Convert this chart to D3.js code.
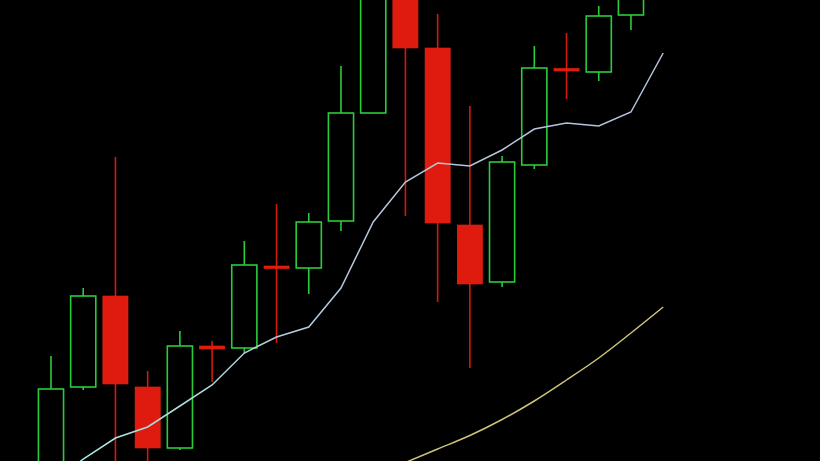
<!DOCTYPE html>
<html>
<head>
<meta charset="utf-8">
<script src="https://cdn.jsdelivr.net/npm/d3@7/dist/d3.min.js"></script>
<style>
  html, body { margin: 0; padding: 0; background: #000; }
  svg { display: block; }
</style>
</head>
<body>
<svg id="chart" width="820" height="461"></svg>
<script>
// ---- data ----
const days  = ["D1","D2","D3","D4","D5","D6","D7","D8","D9","D10",
               "D11","D12","D13","D14","D15","D16","D17","D18","D19","D20"];
const open  = [ 99.1,107.4,116.5,107.4,101.3,111.5,111.3,119.5,119.3,124.0,
               134.8,147.6,141.3,123.6,117.9,129.6,139.25,138.9,144.6,150.1];
const high  = [110.5,117.3,130.4,109.0,113.0,112.0,122.0,125.7,124.8,139.5,
               149.6,148.6,144.7,135.5,130.5,141.5,142.8,145.5,150.1,156.1];
const low   = [ 98.1,107.1, 98.6, 98.6,101.1,107.9,110.8,111.8,116.7,123.0,
               134.8,124.5,115.9,109.3,117.4,129.2,136.2,138.0,143.1,147.1];
const close = [107.2,116.5,107.7,101.3,111.5,111.2,119.6,119.3,123.9,134.8,
               148.6,141.3,123.8,117.7,129.9,139.3,139.0,144.5,149.1,155.1];
// short moving average (light line)
const maFast = [ 97.6,100.2,102.3,103.4,105.5,107.6,110.8,112.4,113.4,117.3,
                123.9,127.9,129.8,129.5,131.1,133.2,133.8,133.5,134.9,140.8];
// long moving average (yellow line)
const maSlow = [null,null,null,null,null,null,null,null,null,null,
                 98.5, 99.85,101.2,102.55,104.15,106.0,108.1,110.3,112.8,115.4];

// ---- chart ----
const W = 820, H = 461;
const svg = d3.select("#chart");
svg.append("rect").attr("width", W).attr("height", H).attr("fill", "#000");

const candles = days.map((d, i) => ({
  day: d, o: open[i], h: high[i], l: low[i], c: close[i]
}));

const step = 32.22;
const x = d3.scaleBand()
  .domain(days)
  .range([51 - step / 2, 51 - step / 2 + step * days.length])
  .paddingInner(0.17)
  .paddingOuter(0.085);

const y = d3.scaleLinear().domain([100, 146.1]).range([H, 0]);

const cx = d => x(d) + x.bandwidth() / 2;

const green = "#2acc3a";
const red = "#de1b0e";
const redWick = "#d21a0c";

const g = svg.append("g");

// wicks
g.selectAll("line.wick").data(candles).join("line")
  .attr("class", "wick")
  .attr("x1", d => cx(d.day)).attr("x2", d => cx(d.day))
  .attr("y1", d => y(d.h)).attr("y2", d => y(d.l))
  .attr("stroke", d => d.c >= d.o ? green : redWick)
  .attr("stroke-width", 1.6);

// bodies
g.selectAll("rect.body").data(candles).join("rect")
  .attr("class", "body")
  .attr("x", d => x(d.day) + 0.8)
  .attr("width", x.bandwidth() - 1.6)
  .attr("y", d => y(Math.max(d.o, d.c)))
  .attr("height", d => Math.max(2.5, Math.abs(y(d.o) - y(d.c))))
  .attr("fill", d => d.c >= d.o ? "#000" : red)
  .attr("stroke", d => d.c >= d.o ? green : "#ec2410")
  .attr("stroke-width", d => d.c >= d.o ? 1.6 : 0.6);

// moving average lines
const defs = svg.append("defs");
const grad = defs.append("linearGradient")
  .attr("id", "maGrad").attr("gradientUnits", "userSpaceOnUse")
  .attr("x1", 60).attr("x2", 670).attr("y1", 0).attr("y2", 0);
grad.append("stop").attr("offset", "0%").attr("stop-color", "#a6ece4");
grad.append("stop").attr("offset", "45%").attr("stop-color", "#b4c6dc");
grad.append("stop").attr("offset", "100%").attr("stop-color", "#b8c2de");

const lineFn = d3.line()
  .defined(d => d.v != null)
  .x(d => cx(d.day))
  .y(d => y(d.v))
  .curve(d3.curveMonotoneX);

svg.append("path")
  .datum(days.map((d, i) => ({ day: d, v: maFast[i] })))
  .attr("d", d3.line().x(d => cx(d.day)).y(d => y(d.v)))
  .attr("fill", "none")
  .attr("stroke", "url(#maGrad)")
  .attr("stroke-width", 1.5);

svg.append("path")
  .datum(days.map((d, i) => ({ day: d, v: maSlow[i] })))
  .attr("d", lineFn)
  .attr("fill", "none")
  .attr("stroke", "#cdc479")
  .attr("stroke-width", 1.5);
</script>
</body>
</html>
